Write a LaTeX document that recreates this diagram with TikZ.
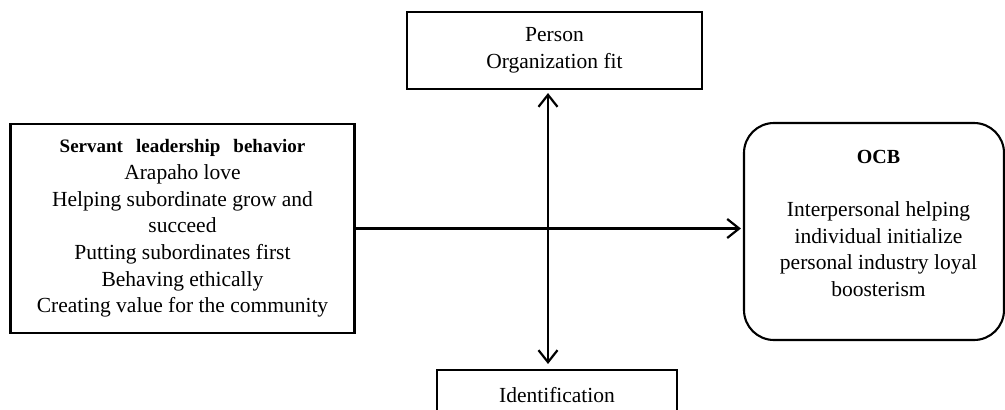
\documentclass[tikz,border=0pt]{standalone}
\usepackage{fontspec}
\setmainfont{Liberation Serif}
\usetikzlibrary{arrows.meta}
\begin{document}
\begin{tikzpicture}[x=1pt,y=-1pt,
  box/.style={draw, line width=2.1pt, inner sep=0pt, align=center,
    font=\fontsize{21.5}{26.7}\selectfont},
  txt/.style={inner sep=0pt, align=center, font=\fontsize{21.5}{26.7}\selectfont},
  conn/.style={line width=2.2pt},
  vconn/.style={line width=2.8pt},
  tip/.tip={Straight Barb[length=12pt,width=19pt,line width=2.2pt]}]
\path[use as bounding box] (0,0) rectangle (1005,410);
\clip (0,0) rectangle (1005,410);
\node[box, minimum width=295, minimum height=77] (pof) at (554.5,50.5) {Person\\Organization fit};
\node[box, minimum width=344, minimum height=209] (slb) at (182.5,228.5)
  {{\fontsize{19}{26.7}\selectfont\bfseries Servant\hspace{13pt}leadership\hspace{13pt}behavior}\\
   Arapaho love\\Helping subordinate grow and\\succeed\\Putting subordinates first\\
   Behaving ethically\\Creating value for the community};
\node[box, rounded corners=30pt, minimum width=260, minimum height=217] (ocb) at (874,231.5) {};
\node[txt] (ocbtext) at (878.5,223.5)
  {{\fontsize{20}{26.7}\selectfont\bfseries OCB}\\[26pt]
   Interpersonal helping\\individual initialize\\personal industry loyal\\boosterism};
\node[box, minimum width=240, minimum height=50] (idn) at (557,395) {Identification};
\coordinate (vx) at (548,228);
\draw[vconn, tip-tip, shorten <=3pt, shorten >=5pt] (vx |- pof.south) -- (vx |- idn.north);
\draw[conn, -tip, shorten >=2pt] (slb.east) -- (slb.east -| ocb.west);
\end{tikzpicture}
\end{document}
